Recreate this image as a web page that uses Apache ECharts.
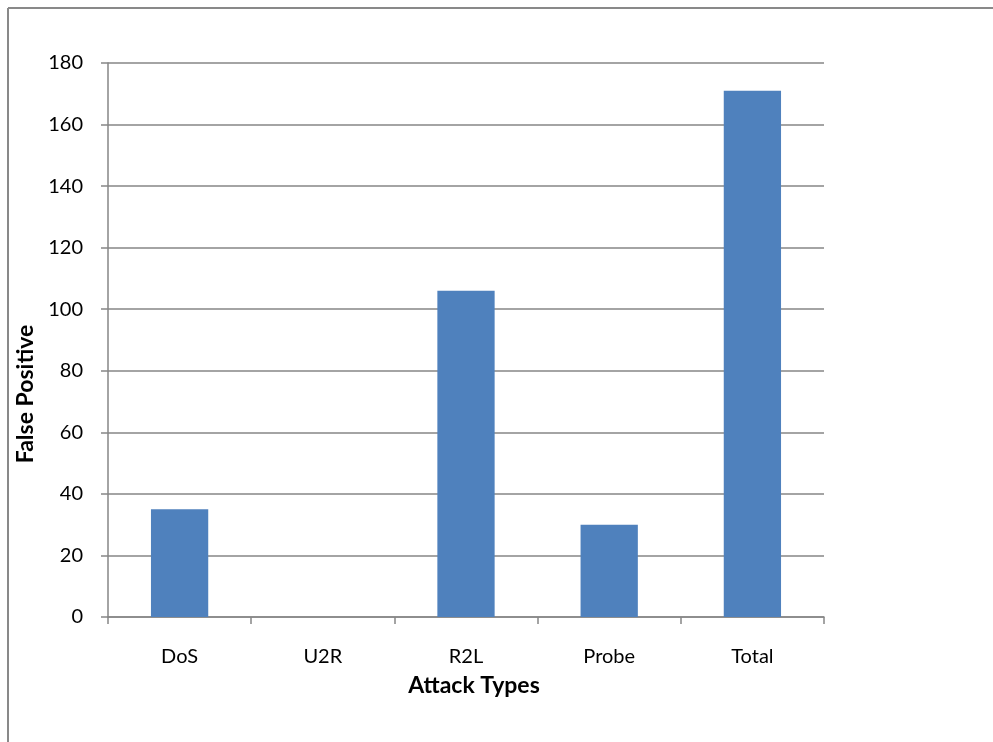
<!DOCTYPE html>
<html>
<head>
<meta charset="utf-8">
<script src="https://cdn.jsdelivr.net/npm/echarts@6/dist/echarts.min.js"></script>
<style>
  html, body { margin: 0; padding: 0; background: #ffffff; }
  #chart { width: 993px; height: 742px; }
</style>
</head>
<body>
<div id="chart"></div>
<script>
// Attack categories and their false positive counts
const categories = ['DoS', 'U2R', 'R2L', 'Probe', 'Total'];
const falsePositives = [35, 0, 106, 30, 171];
const yTicks = { min: 0, max: 180, step: 20 };

const FONT = 'Lato, "Open Sans", sans-serif';
const AXIS_GRAY = '#868686';

const chart = echarts.init(document.getElementById('chart'), null, { renderer: 'canvas' });

chart.setOption({
  backgroundColor: '#ffffff',
  animation: false,
  graphic: [
    // chart frame (top and left edges)
    { type: 'line', shape: { x1: 8, y1: 8, x2: 993, y2: 8 }, style: { stroke: '#898989', lineWidth: 2 } },
    { type: 'line', shape: { x1: 8, y1: 8, x2: 8, y2: 742 }, style: { stroke: '#898989', lineWidth: 2 } }
  ],
  grid: { left: 108, right: 169, top: 63, bottom: 125, containLabel: false },
  xAxis: {
    type: 'category',
    data: categories,
    boundaryGap: true,
    name: 'Attack Types',
    nameLocation: 'middle',
    nameGap: 57,
    nameTextStyle: { fontFamily: FONT, fontWeight: 'bold', fontSize: 23, color: '#000', padding: [0, 0, 0, 16] },
    axisLine: { lineStyle: { color: AXIS_GRAY, width: 1.5 } },
    axisTick: { show: true, inside: false, length: 7, alignWithLabel: false, lineStyle: { color: AXIS_GRAY, width: 1.5 } },
    axisLabel: { fontFamily: FONT, fontSize: 20, color: '#000', margin: 30 },
    splitLine: { show: false }
  },
  yAxis: {
    type: 'value',
    min: yTicks.min,
    max: yTicks.max,
    interval: yTicks.step,
    name: 'False Positive',
    nameLocation: 'middle',
    nameGap: 71,
    nameRotate: 90,
    nameTextStyle: { fontFamily: FONT, fontWeight: 'bold', fontSize: 23, color: '#000', padding: [0, 108, 0, 0] },
    axisLine: { show: true, lineStyle: { color: AXIS_GRAY, width: 1.5 } },
    axisTick: { show: true, inside: false, length: 7, lineStyle: { color: AXIS_GRAY, width: 1.5 } },
    axisLabel: { fontFamily: FONT, fontSize: 20, color: '#000', margin: 25 },
    splitLine: { show: true, lineStyle: { color: AXIS_GRAY, width: 1.5 } }
  },
  series: [{
    type: 'bar',
    data: falsePositives,
    barCategoryGap: '60%',
    itemStyle: { color: '#4F81BD' }
  }]
});
</script>
</body>
</html>
